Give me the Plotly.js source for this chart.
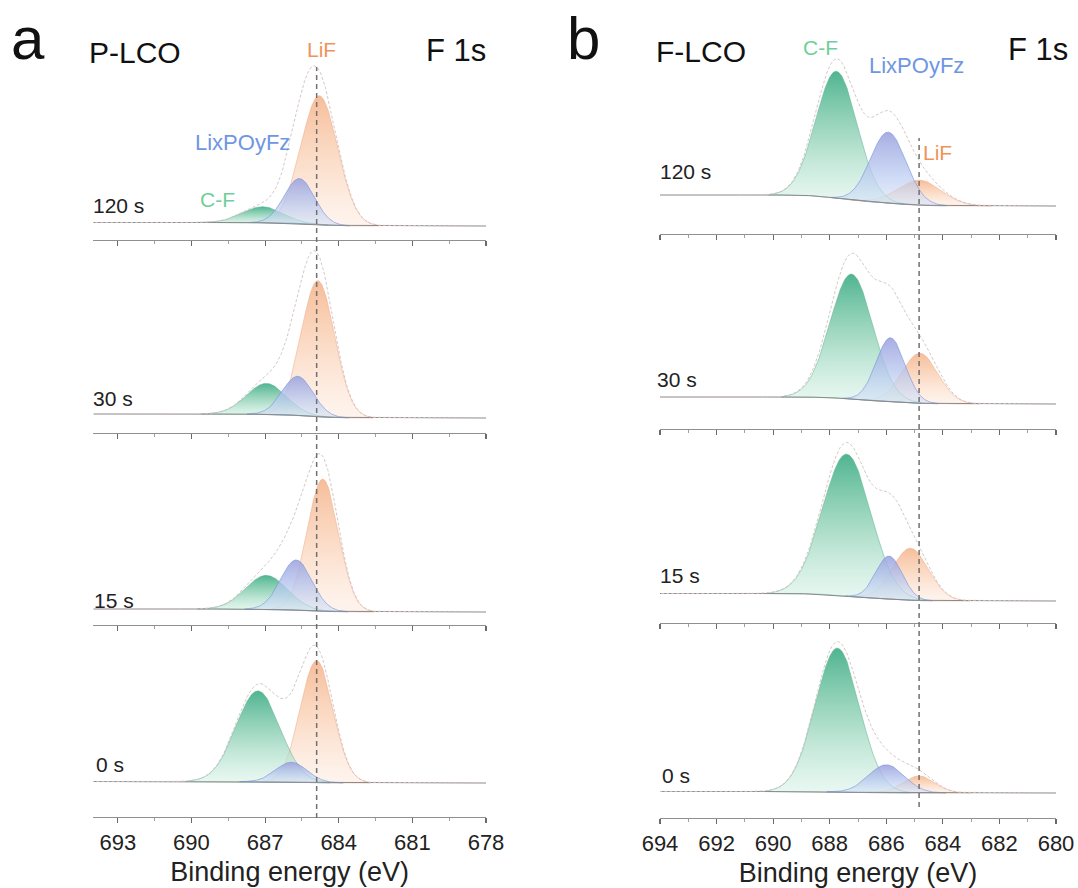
<!DOCTYPE html>
<html>
<head>
<meta charset="utf-8">
<script src="https://cdn.plot.ly/plotly-3.0.1.min.js"></script>
<style>
  html, body { margin: 0; padding: 0; background: #fff; }
  #chart { width: 1078px; height: 888px; }
</style>
</head>
<body>
<div id="chart"></div>
<script>
// F 1s XPS depth profiles of P-LCO and F-LCO, fitted with three components.
// Rows in every array below follow the sputter times, top to bottom.
const sputterTimes = ['120 s', '30 s', '15 s', '0 s'];
const componentNames = ['C-F', 'LixPOyFz', 'LiF'];

// P-LCO: peak centre (eV), height (a.u.), FWHM (eV)
const pCfCenter  = [687.10, 686.95, 686.95, 687.29];
const pCfHeight  = [0.16, 0.31, 0.34, 0.91];
const pCfFwhm    = [1.90, 1.90, 2.00, 2.10];
const pPofCenter = [685.60, 685.67, 685.73, 685.93];
const pPofHeight = [0.45, 0.39, 0.50, 0.20];
const pPofFwhm   = [1.45, 1.47, 1.50, 1.50];
const pLifCenter = [684.79, 684.85, 684.65, 684.90];
const pLifHeight = [1.29, 1.36, 1.32, 1.22];
const pLifFwhm   = [1.75, 1.60, 1.50, 1.57];
const pBgStep    = [0.035, 0.040, 0.030, 0.015];   // Shirley step, high-BE minus low-BE side
const pRawScale  = [1.04, 1.06, 1.07, 1.05];       // measured envelope relative to fit sum
const pLifRef    = 684.9;

// F-LCO
const fCfCenter  = [687.76, 687.23, 687.40, 687.73];
const fCfHeight  = [1.27, 1.25, 1.42, 1.44];
const fCfFwhm    = [1.71, 1.77, 2.00, 1.83];
const fPofCenter = [685.93, 685.85, 685.90, 686.00];
const fPofHeight = [0.71, 0.64, 0.43, 0.28];
const fPofFwhm   = [1.48, 1.20, 1.10, 1.50];
const fLifCenter = [684.81, 684.81, 685.14, 684.84];
const fLifHeight = [0.25, 0.50, 0.52, 0.17];
const fLifFwhm   = [1.80, 1.50, 1.50, 1.30];
const fBgStep    = [0.110, 0.070, 0.075, 0.015];
const fRawScale  = [1.09, 1.15, 1.08, 1.04];
const fLifRef    = 684.84;

const W = 1078, H = 888;
const FONT = 'Liberation Sans, Arial, Helvetica, sans-serif';

// vertical fill gradients (base -> peak top) and outline colours per component
const compStyle = {
  'C-F': {
    scale: [[0, 'rgba(212,241,229,0.5)'], [0.5, 'rgba(140,208,180,0.75)'], [1, 'rgba(60,172,132,0.9)']],
    line: 'rgba(95,180,150,0.75)'
  },
  'LixPOyFz': {
    scale: [[0, 'rgba(208,224,248,0.5)'], [0.5, 'rgba(180,196,238,0.75)'], [1, 'rgba(156,162,222,0.88)']],
    line: 'rgba(110,140,215,0.8)'
  },
  'LiF': {
    scale: [[0, 'rgba(253,234,221,0.5)'], [0.5, 'rgba(250,210,183,0.75)'], [1, 'rgba(245,182,142,0.9)']],
    line: 'rgba(238,175,140,0.8)'
  }
};
const labelColor = { 'C-F': '#6fcf97', 'LixPOyFz': '#6e96e2', 'LiF': '#f0935a' };

function gauss(x, c, h, w) {
  const d = (x - c) / w;
  return h * Math.exp(-4 * Math.LN2 * d * d);
}

// Builds component curves, Shirley background and envelope on an energy grid
function buildSpectrum(eLow, eHigh, comps, bgStep, rawScale) {
  const xs = [];
  for (let e = eLow; e <= eHigh + 1e-9; e += 0.02) xs.push(+e.toFixed(3));
  const curves = comps.map(p => xs.map(x => gauss(x, p.c, p.h, p.w)));
  const total = xs.map((_, i) => curves.reduce((s, cv) => s + cv[i], 0));
  const cum = [0];
  for (let i = 1; i < xs.length; i++) cum.push(cum[i - 1] + 0.5 * (total[i] + total[i - 1]));
  const area = cum[cum.length - 1];
  const bg = cum.map(a => bgStep * a / area);
  const raw = xs.map((_, i) => bg[i] + rawScale * total[i]);
  return { xs, curves, bg, raw };
}

const traces = [];
const layout = {
  width: W, height: H,
  margin: { l: 0, r: 0, t: 0, b: 0 },
  paper_bgcolor: '#fff', plot_bgcolor: 'rgba(0,0,0,0)',
  showlegend: false,
  font: { family: FONT, color: '#222' },
  annotations: [], shapes: []
};

function addPanel(opts) {
  const { axisOffset, xDomainPx, rowsPx, yRanges, eRange, tick0, dtick, minorDtick,
          cfC, cfH, cfW, pfC, pfH, pfW, lfC, lfH, lfW, bgStep, rawScale } = opts;
  for (let r = 0; r < 4; r++) {
    const n = axisOffset + r + 1;
    const xa = 'x' + n, ya = 'y' + n;
    const comps = [
      { name: 'C-F', c: cfC[r], h: cfH[r], w: cfW[r] },
      { name: 'LixPOyFz', c: pfC[r], h: pfH[r], w: pfW[r] },
      { name: 'LiF', c: lfC[r], h: lfH[r], w: lfW[r] }
    ];
    const sp = buildSpectrum(eRange[1], eRange[0], comps, bgStep[r], rawScale[r]);
    // draw LiF first, then C-F, with LixPOyFz on top
    [2, 0, 1].forEach(k => {
      const st = compStyle[comps[k].name];
      const cv = sp.curves[k];
      const idx = [];
      for (let i = 0; i < sp.xs.length; i++) if (cv[i] > comps[k].h * 0.004) idx.push(i);
      const px = idx.map(i => sp.xs[i]);
      const py = idx.map(i => sp.bg[i] + cv[i]);
      const bx = idx.slice().reverse().map(i => sp.xs[i]);
      const by = idx.slice().reverse().map(i => sp.bg[i]);
      traces.push({
        type: 'scatter', mode: 'lines', xaxis: xa, yaxis: ya,
        name: comps[k].name + ' ' + sputterTimes[r],
        x: px.concat(bx), y: py.concat(by),
        fill: 'toself',
        fillgradient: { type: 'vertical', colorscale: st.scale },
        line: { color: st.line, width: 0.7 },
        hoverinfo: 'skip'
      });
    });
    // background
    traces.push({
      type: 'scatter', mode: 'lines', xaxis: xa, yaxis: ya,
      x: sp.xs, y: sp.bg, line: { color: '#8a8a8a', width: 1 }, hoverinfo: 'skip'
    });
    // measured envelope
    traces.push({
      type: 'scatter', mode: 'lines', xaxis: xa, yaxis: ya,
      x: sp.xs, y: sp.raw, line: { color: 'rgba(210,192,192,0.9)', width: 1, dash: '3px,2px' },
      hoverinfo: 'skip'
    });
    const top = rowsPx[r][0], bot = rowsPx[r][1];
    layout['xaxis' + n] = {
      domain: [xDomainPx[0] / W, xDomainPx[1] / W], anchor: ya,
      range: eRange, autorange: false,
      showline: true, linecolor: '#909090', linewidth: 1.2,
      ticks: 'outside', ticklen: 5, tickwidth: 1.2, tickcolor: '#6a6a6a',
      tick0: tick0, dtick: dtick,
      minor: { ticks: 'outside', ticklen: 2.5, tickwidth: 1, tickcolor: '#a0a0a0', dtick: minorDtick, tick0: tick0 },
      showgrid: false, zeroline: false,
      showticklabels: r === 3,
      tickfont: { family: FONT, size: 22, color: '#222' },
      fixedrange: true
    };
    if (r === 3) {
      layout['xaxis' + n].title = {
        text: 'Binding energy (eV)', font: { family: FONT, size: 27, color: '#222' }, standoff: 8
      };
    }
    layout['yaxis' + n] = {
      domain: [1 - bot / H, 1 - top / H], anchor: xa,
      range: yRanges[r], visible: false, fixedrange: true
    };
  }
}

addPanel({
  axisOffset: 0, xDomainPx: [93.3, 486], eRange: [694, 678], tick0: 693, dtick: 3, minorDtick: 1.5,
  rowsPx: [[48, 240], [240, 433], [433, 625], [625, 817]],
  yRanges: [[-0.14, 1.78], [-0.15, 1.78], [-0.13, 1.79], [-0.34, 1.58]],
  cfC: pCfCenter, cfH: pCfHeight, cfW: pCfFwhm,
  pfC: pPofCenter, pfH: pPofHeight, pfW: pPofFwhm,
  lfC: pLifCenter, lfH: pLifHeight, lfW: pLifFwhm,
  bgStep: pBgStep, rawScale: pRawScale
});
addPanel({
  axisOffset: 4, xDomainPx: [660, 1056], eRange: [694, 680], tick0: 694, dtick: 2, minorDtick: 1,
  rowsPx: [[39, 234], [234, 429], [429, 623], [623, 818]],
  yRanges: [[-0.28, 1.67], [-0.25, 1.70], [-0.22, 1.72], [-0.25, 1.70]],
  cfC: fCfCenter, cfH: fCfHeight, cfW: fCfFwhm,
  pfC: fPofCenter, pfH: fPofHeight, pfW: fPofFwhm,
  lfC: fLifCenter, lfH: fLifHeight, lfW: fLifFwhm,
  bgStep: fBgStep, rawScale: fRawScale
});

// dashed reference lines at the LiF position
layout.shapes.push({
  type: 'line', layer: 'above', xref: 'x1', yref: 'paper',
  x0: pLifRef, x1: pLifRef, y0: 1 - 818 / H, y1: 1 - 67 / H,
  line: { color: '#707070', width: 1.5, dash: '5px,4px' }
});
layout.shapes.push({
  type: 'line', layer: 'above', xref: 'x5', yref: 'paper',
  x0: fLifRef, x1: fLifRef, y0: 1 - 807 / H, y1: 1 - 138 / H,
  line: { color: '#707070', width: 1.5, dash: '5px,4px' }
});

// text placed by left edge and baseline (pixels)
function label(text, xLeft, baseline, size, color) {
  layout.annotations.push({
    xref: 'paper', yref: 'paper', x: xLeft / W, y: 1 - (baseline - 0.35 * size) / H,
    xanchor: 'left', yanchor: 'middle', showarrow: false, text: text,
    font: { family: FONT, size: size, color: color }, borderpad: 0
  });
}

label('a', 10, 59, 60, '#111');
label('P-LCO', 88, 63, 30, '#111');
label('F 1s', 425, 61, 31, '#111');
label(componentNames[2], 306, 57, 21, labelColor['LiF']);
label(componentNames[1], 194, 150, 22, labelColor['LixPOyFz']);
label(componentNames[0], 199, 207, 21, labelColor['C-F']);
label(sputterTimes[0], 92, 213, 21, '#222');
label(sputterTimes[1], 92, 406, 21, '#222');
label(sputterTimes[2], 93, 608, 21, '#222');
label(sputterTimes[3], 95, 772, 21, '#222');

label('b', 566, 59, 60, '#111');
label('F-LCO', 655, 62, 30, '#111');
label('F 1s', 1007, 60, 31, '#111');
label(componentNames[0], 802, 55, 21, labelColor['C-F']);
label(componentNames[1], 868, 73, 22, labelColor['LixPOyFz']);
label(componentNames[2], 922, 160, 21, labelColor['LiF']);
label(sputterTimes[0], 659, 179, 21, '#222');
label(sputterTimes[1], 656, 387, 21, '#222');
label(sputterTimes[2], 659, 583, 21, '#222');
label(sputterTimes[3], 661, 783, 21, '#222');

Plotly.newPlot('chart', traces, layout, { staticPlot: true, displayModeBar: false });
</script>
</body>
</html>
